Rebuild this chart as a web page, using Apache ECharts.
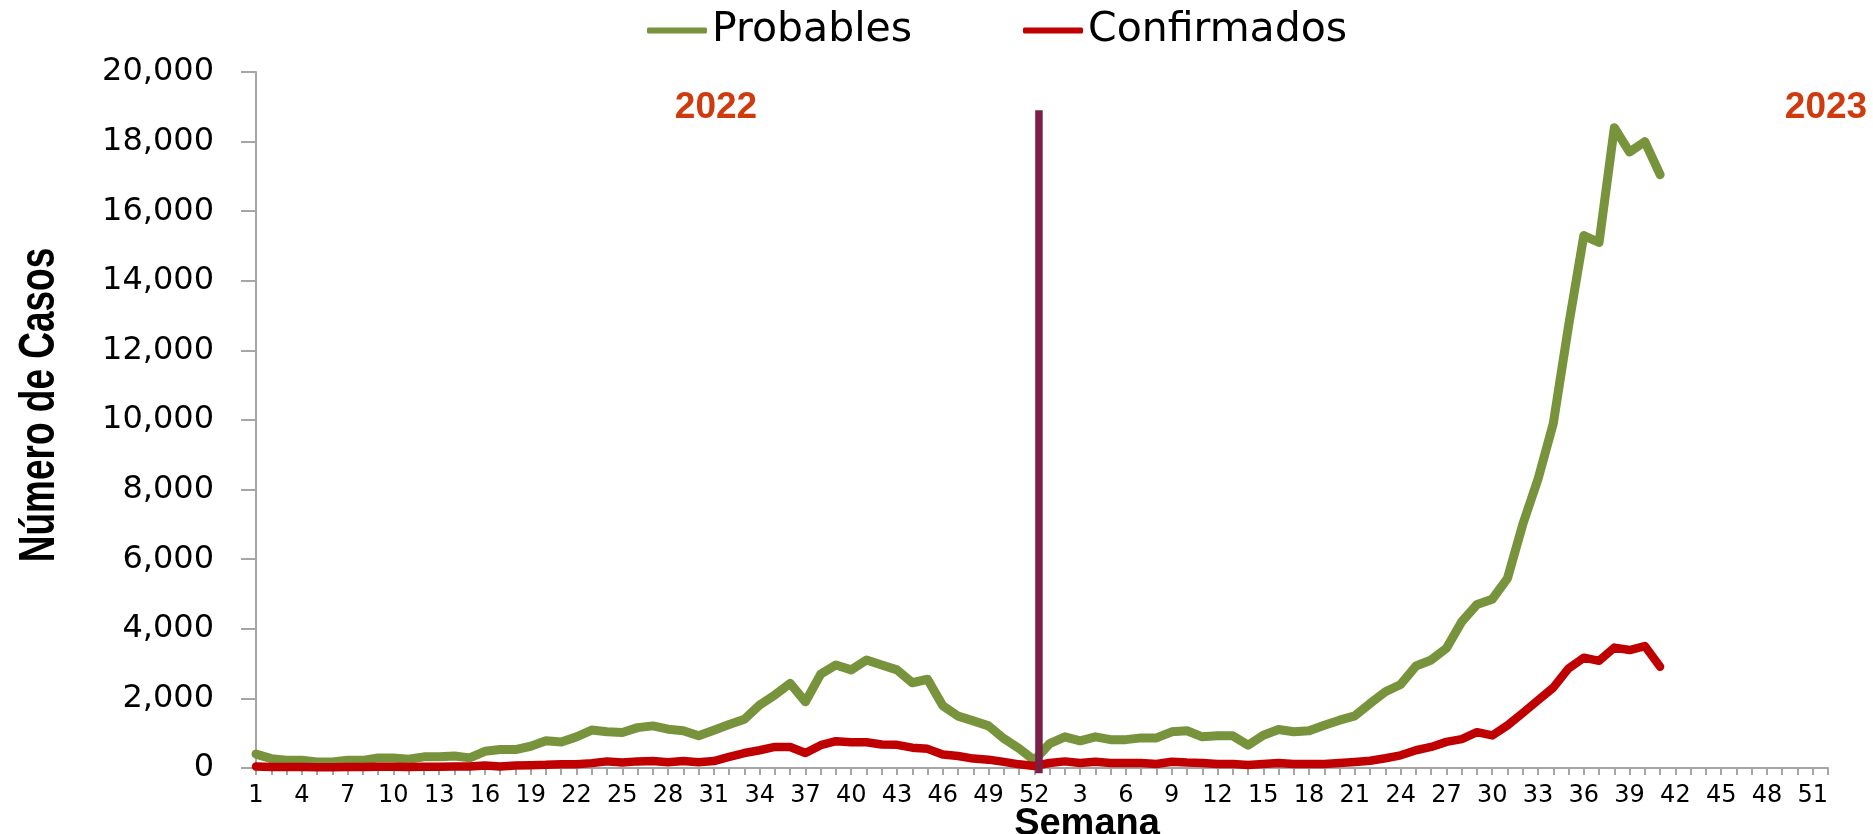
<!DOCTYPE html>
<html><head><meta charset="utf-8">
<script src="https://cdn.jsdelivr.net/npm/echarts@6/dist/echarts.min.js"></script>
<style>html,body{margin:0;padding:0;background:#fff}#c{width:1873px;height:834px}</style>
</head><body><div id="c"></div>
<script>
// Week categories: 2022 weeks 1-52 followed by 2023 weeks 1-52
const weeks2022 = [1,2,3,4,5,6,7,8,9,10,11,12,13,14,15,16,17,18,19,20,21,22,23,24,25,26,27,28,29,30,31,32,33,34,35,36,37,38,39,40,41,42,43,44,45,46,47,48,49,50,51,52];
const weeks2023 = [1,2,3,4,5,6,7,8,9,10,11,12,13,14,15,16,17,18,19,20,21,22,23,24,25,26,27,28,29,30,31,32,33,34,35,36,37,38,39,40,41,42,43,44,45,46,47,48,49,50,51,52];

// Probables (green)
const probables2022 = [400,270,220,220,175,175,220,220,290,290,250,320,320,345,290,480,530,530,625,780,750,895,1090,1040,1020,1160,1210,1115,1070,925,1085,1250,1400,1810,2100,2430,1900,2700,2960,2820,3105,2960,2820,2450,2550,1790,1490,1355,1210,845,560,220];
const probables2023 = [700,895,780,895,815,815,865,865,1040,1070,895,925,925,655,940,1105,1040,1070,1230,1375,1500,1855,2190,2400,2930,3105,3440,4200,4700,4850,5450,7000,8300,9900,12700,15300,15100,18400,17700,18000,17050];

// Confirmados (red)
const confirmados2022 = [40,30,30,30,25,25,30,30,35,35,30,35,35,40,40,75,45,70,80,90,110,110,140,190,155,190,200,165,200,165,200,320,430,510,605,605,430,655,770,740,740,675,665,585,550,385,345,270,240,175,105,60];
const confirmados2023 = [145,190,145,180,145,145,145,115,180,155,145,115,115,85,115,145,115,115,115,145,175,210,280,365,510,605,750,830,1030,935,1225,1580,1945,2310,2860,3170,3080,3460,3390,3505,2910];

// Y axis ticks
const yMin = 0, yMax = 20000, yInterval = 2000;

// Year divider (in week-index units) and its vertical extent (cases)
const dividerIndex = [51.3];
const dividerRange = [-150, 18900];
const yearLabels = ['2022', '2023'];
const seriesNames = ['Probables', 'Confirmados'];
const yTitle = 'Número de Casos';
const xTitle = 'Semana';

const categories = weeks2022.concat(weeks2023).map(String);
const probables = probables2022.concat(probables2023);
const confirmados = confirmados2022.concat(confirmados2023);

const chart = echarts.init(document.getElementById('c'), null, {renderer: 'canvas'});
const tickFont = 'DejaVu Sans';
const axisGray = '#A6A6A6';
const yearStyle = {textAlign: 'center', textVerticalAlign: 'middle',
  font: 'bold 37px "Liberation Sans"', fill: '#CF3B0E',
  shadowColor: 'rgba(0,0,0,0.35)', shadowBlur: 3, shadowOffsetX: 2, shadowOffsetY: 2};

chart.setOption({
  backgroundColor: '#ffffff',
  animation: false,
  grid: {left: 256, right: 45, top: 72, bottom: 66, containLabel: false, outerBoundsMode: 'none'},
  legend: [
    {data: [seriesNames[0]], left: 642, top: 5, icon: 'roundRect', itemWidth: 60, itemHeight: 6, itemGap: 6,
     textStyle: {fontFamily: tickFont, fontSize: 41, color: '#000'}},
    {data: [seriesNames[1]], left: 1018, top: 5, icon: 'roundRect', itemWidth: 60, itemHeight: 6, itemGap: 6,
     textStyle: {fontFamily: tickFont, fontSize: 41, color: '#000'}}
  ],
  xAxis: [
    {
      type: 'category', data: categories, boundaryGap: false,
      name: xTitle, nameLocation: 'middle', nameGap: 38, nameMoveOverlap: false,
      nameTextStyle: {fontFamily: 'Liberation Sans', fontWeight: 'bold', fontSize: 38, color: '#000', padding: [0, 0, 0, 90]},
      axisLine: {lineStyle: {color: axisGray, width: 2}},
      axisTick: {interval: 0, length: 7, lineStyle: {color: axisGray, width: 2}},
      axisLabel: {interval: 2, margin: 16, fontFamily: tickFont, fontSize: 24, color: '#000'},
      splitLine: {show: false}
    },
    {type: 'value', min: 0, max: categories.length - 1, show: false}
  ],
  yAxis: {
    type: 'value', min: yMin, max: yMax, interval: yInterval,
    axisLine: {show: true, lineStyle: {color: axisGray, width: 2}},
    axisTick: {show: true, length: 15, lineStyle: {color: axisGray, width: 2}},
    axisLabel: {margin: 42, fontFamily: tickFont, fontSize: 32, color: '#000',
      formatter: v => v.toLocaleString('en-US')},
    splitLine: {show: false}
  },
  series: [
    {name: seriesNames[0], type: 'line', data: probables, showSymbol: false, symbol: 'none',
     itemStyle: {color: '#77933C'}, lineStyle: {color: '#77933C', width: 9, cap: 'round', join: 'round'}},
    {name: seriesNames[1], type: 'line', data: confirmados, showSymbol: false, symbol: 'none',
     itemStyle: {color: '#C00000'}, lineStyle: {color: '#C00000', width: 8.5, cap: 'round', join: 'round'}},
    {name: 'divider', type: 'line', xAxisIndex: 1, clip: false, silent: true, symbol: 'none',
     data: [[dividerIndex[0], dividerRange[0]], [dividerIndex[0], dividerRange[1]]],
     lineStyle: {color: '#7B1F47', width: 7.5}, z: 5}
  ],
  graphic: [
    {type: 'text', x: 40, y: 405, rotation: Math.PI / 2, scaleX: 0.74,
     style: {text: yTitle, textAlign: 'center', textVerticalAlign: 'middle', font: 'bold 50px "Liberation Sans"', fill: '#000'}},
    {type: 'text', style: Object.assign({text: yearLabels[0], x: 716, y: 108}, yearStyle)},
    {type: 'text', style: Object.assign({text: yearLabels[1], x: 1826, y: 108}, yearStyle)}
  ]
});
</script></body></html>
